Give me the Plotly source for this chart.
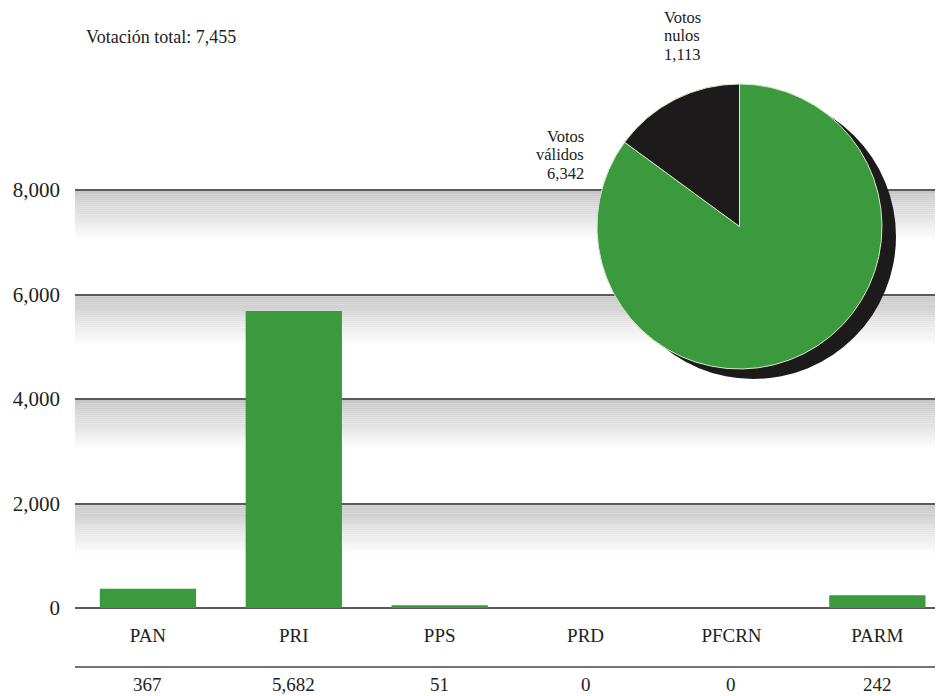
import plotly.graph_objects as go

# ---- data ----
partidos = ["PAN", "PRI", "PPS", "PRD", "PFCRN", "PARM"]
votos = [367, 5682, 51, 0, 0, 242]
pie_labels = ["Votos válidos", "Votos nulos"]
pie_values = [6342, 1113]
votacion_total = 7455
y_ticks = [0, 2000, 4000, 6000, 8000]

GREEN = "#3b9a3d"
BLACK = "#1d1a1c"
FONT = "'Liberation Serif', 'DejaVu Serif', serif"

OFF = 8  # page body margin
W, H = 943, 696
ML = 75 - OFF
MR = OFF
MT = 0
MB = H - (608 - OFF)
plot_h = H - MT - MB
plot_w = W - ML - MR


def py_(page_y):
    return (H - MB - (page_y - OFF)) / plot_h


def px_(page_x):
    return (page_x - OFF - ML) / plot_w


fig = go.Figure()

fig.add_trace(go.Bar(
    x=list(range(len(partidos))), y=votos,
    marker=dict(color=GREEN, line=dict(width=0)),
    width=0.66, hoverinfo="x+y", showlegend=False,
))

# shadow pie
fig.add_trace(go.Pie(
    values=[1], labels=["sombra"], marker=dict(colors=[BLACK]),
    textinfo="none", sort=False, showlegend=False, hoverinfo="skip",
    domain=dict(x=[px_(611), px_(896)], y=[py_(379), py_(94)]),
))
# main pie
fig.add_trace(go.Pie(
    values=pie_values, labels=pie_labels,
    marker=dict(colors=[GREEN, BLACK], line=dict(color="#d8e8c8", width=1)),
    textinfo="none", sort=False, direction="clockwise", rotation=0,
    showlegend=False,
    domain=dict(x=[px_(597), px_(882)], y=[py_(369), py_(84)]),
))

shapes = []
# gradient bands under gridlines
steps = 24
band = 950
for t in y_ticks[1:]:
    for i in range(steps):
        f = i / steps
        g = int(198 + (255 - 198) * f)
        shapes.append(dict(
            type="rect", xref="paper", yref="y", layer="below",
            x0=0, x1=1, y0=t - band * (i + 1) / steps, y1=t - band * i / steps,
            fillcolor=f"rgb({g},{g},{g})", line=dict(width=0),
        ))
# line between category names and values
shapes.append(dict(type="line", xref="paper", yref="paper", x0=0, x1=1,
                   y0=py_(667), y1=py_(667),
                   line=dict(color="#444", width=1.5)))

TXT = "#222"
annotations = []
for i, v in enumerate(votos):
    annotations.append(dict(
        x=i, y=py_(684), xref="x", yref="paper", yanchor="middle",
        text=f"{v:,}", showarrow=False,
        font=dict(family=FONT, size=19, color=TXT),
    ))
annotations.append(dict(
    x=px_(84), y=py_(37), xref="paper", yref="paper",
    xanchor="left", yanchor="middle",
    text=f"Votación total: {votacion_total:,}", showarrow=False,
    font=dict(family=FONT, size=18, color=TXT),
))
nulos_lines = ["Votos", "nulos", f"{pie_values[1]:,}"]
for k, line in enumerate(nulos_lines):
    annotations.append(dict(
        x=px_(682), y=py_(17 + 18.5 * k), xref="paper", yref="paper",
        text=line, showarrow=False, xanchor="center", yanchor="middle",
        borderpad=0, font=dict(family=FONT, size=16.5, color=TXT),
    ))
validos_lines = ["Votos", "válidos", f"{pie_values[0]:,}"]
for k, line in enumerate(validos_lines):
    annotations.append(dict(
        x=px_(585), y=py_(136 + 18.5 * k), xref="paper", yref="paper",
        text=line, showarrow=False, xanchor="right", yanchor="middle",
        borderpad=0, font=dict(family=FONT, size=16.5, color=TXT),
    ))

fig.update_layout(
    width=W, height=H,
    margin=dict(l=ML, r=MR, t=MT, b=MB),
    paper_bgcolor="white", plot_bgcolor="white",
    font=dict(family=FONT),
    shapes=shapes, annotations=annotations,
    xaxis=dict(
        range=[-0.5, 5.45], tickmode="array",
        tickvals=list(range(len(partidos))), ticktext=partidos,
        showgrid=False, zeroline=False, showline=False,
        ticks="", ticklabelstandoff=14,
        tickfont=dict(family=FONT, size=19, color=TXT),
        fixedrange=True,
    ),
    yaxis=dict(
        range=[0, plot_h / 52.25 * 1000], tickmode="array", tickvals=y_ticks,
        tickformat=",d", showgrid=True, gridcolor="#5a5a5a", gridwidth=1.5,
        zeroline=True, zerolinecolor="#5a5a5a", zerolinewidth=1.5,
        showline=False, ticks="", ticklabelstandoff=14,
        tickfont=dict(family=FONT, size=21, color=TXT),
        fixedrange=True,
    ),
    bargap=0.34,
)

fig.write_html("out.html")
